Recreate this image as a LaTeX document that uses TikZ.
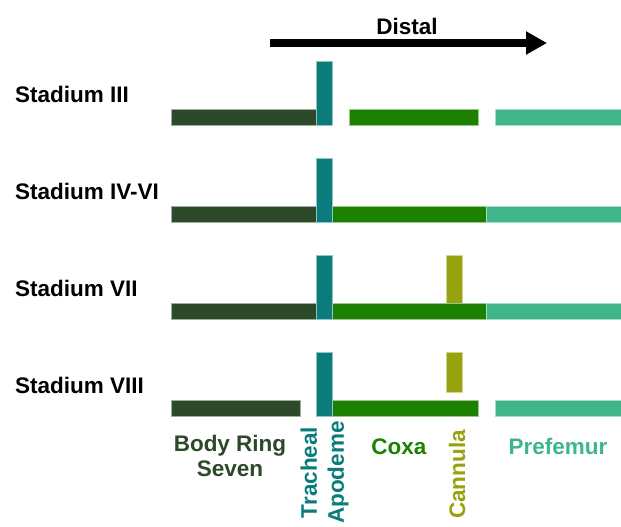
\documentclass[tikz,border=0pt]{standalone}
\usepackage{fontspec}
\setmainfont{Liberation Sans}
\usetikzlibrary{arrows.meta}

\definecolor{ringgreen}{HTML}{2C4A2A}
\definecolor{apoteal}{HTML}{0B7B7B}
\definecolor{coxagreen}{HTML}{1C8000}
\definecolor{cannolive}{HTML}{98A10E}
\definecolor{femgreen}{HTML}{3FB68A}

\tikzset{
  seg/.style={fill=#1, draw=#1!45!white, line width=0.5pt},
  lbl/.style={font=\bfseries\fontsize{22.5}{25}\selectfont, inner sep=0pt}
}

\begin{document}
\begin{tikzpicture}[x=1pt,y=-1pt]
\useasboundingbox (0,0) rectangle (621,527);

% distal arrow
\coordinate (dstart) at (270,43);
\coordinate (dend) at (547,43);
\draw [line width=8pt, -{Triangle[length=21pt,width=22pt]}] (dstart) -- (dend);
\node [lbl, anchor=base] (distal) at (407,35) {Distal};

% stadium labels
\node [lbl, anchor=base west] (st3) at (15,102) {Stadium III};
\node [lbl, anchor=base west] (st4) at (15,199) {Stadium IV-VI};
\node [lbl, anchor=base west] (st7) at (15,296) {Stadium VII};
\node [lbl, anchor=base west] (st8) at (15,393) {Stadium VIII};

% stadium III
\fill [seg=ringgreen] (171,109) rectangle (316,125);
\fill [seg=apoteal] (316,61) rectangle (332,125);
\fill [seg=coxagreen] (349,109) rectangle (478,125);
\fill [seg=femgreen] (495,109) rectangle (621,125);

% stadium IV-VI
\fill [seg=ringgreen] (171,206) rectangle (316,222);
\fill [seg=coxagreen] (332,206) rectangle (486,222);
\fill [seg=femgreen] (486,206) rectangle (621,222);
\fill [seg=apoteal] (316,158) rectangle (332,222);

% stadium VII
\fill [seg=ringgreen] (171,303) rectangle (316,319);
\fill [seg=cannolive] (446,255) rectangle (462,303);
\fill [seg=coxagreen] (332,303) rectangle (486,319);
\fill [seg=femgreen] (486,303) rectangle (621,319);
\fill [seg=apoteal] (316,255) rectangle (332,319);

% stadium VIII
\fill [seg=ringgreen] (171,400) rectangle (300,416);
\fill [seg=cannolive] (446,352) rectangle (462,392);
\fill [seg=coxagreen] (332,400) rectangle (478,416);
\fill [seg=femgreen] (495,400) rectangle (621,416);
\fill [seg=apoteal] (316,352) rectangle (332,416);

% part names
\node [lbl, text=ringgreen, align=center, anchor=north] (ring) at (230,435) {Body Ring\\Seven};
\node [lbl, text=apoteal, align=center, rotate=90, font=\bfseries\fontsize{22.5}{27}\selectfont] (apodeme) at (324.5,472.5) {Tracheal\\Apodeme};
\node [lbl, text=coxagreen, anchor=base] (coxa) at (399,454) {Coxa};
\node [lbl, text=cannolive, rotate=90, anchor=base] (cannula) at (465,474.5) {Cannula};
\node [lbl, text=femgreen, anchor=base] (prefemur) at (558,454) {Prefemur};

\end{tikzpicture}
\end{document}
